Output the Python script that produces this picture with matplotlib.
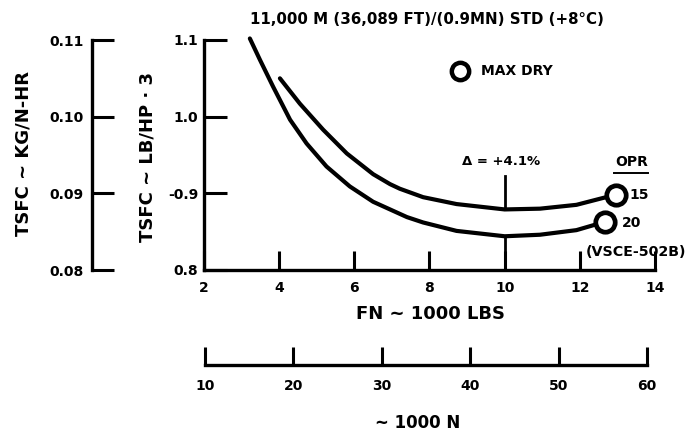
import matplotlib
matplotlib.use("Agg")
import matplotlib.pyplot as plt

plt.rcParams['font.family'] = ['DejaVu Sans']
plt.rcParams['font.weight'] = 'bold'

# ---- data ----
fn_opr20 = [3.22, 3.49, 3.84, 4.29, 4.73, 5.26, 5.88, 6.50, 6.95, 7.40, 7.83, 8.72, 10.0, 10.94, 11.91, 12.40, 12.68]
tsfc_opr20 = [1.102, 1.074, 1.039, 0.996, 0.965, 0.935, 0.909, 0.889, 0.879, 0.869, 0.862, 0.851, 0.844, 0.846, 0.852, 0.859, 0.862]

fn_opr15 = [4.02, 4.55, 5.17, 5.80, 6.50, 6.95, 7.21, 7.83, 8.72, 10.0, 10.94, 11.91, 12.62, 12.97]
tsfc_opr15 = [1.050, 1.017, 0.983, 0.952, 0.925, 0.912, 0.906, 0.895, 0.886, 0.879, 0.880, 0.885, 0.894, 0.898]

maxdry_fn = [8.81]
maxdry_tsfc = [1.059]

delta_fn = 10.0
delta_top = 0.922

x_ticks = [2, 4, 6, 8, 10, 12, 14]
x_ticklabels = ['2', '4', '6', '8', '10', '12', '14']
y_ticks = [0.8, 0.9, 1.0, 1.1]
y_ticklabels = ['0.8', '-0.9', '1.0', '1.1']
y2_ticks = [0.08, 0.09, 0.10, 0.11]
y2_ticklabels = ['0.08', '0.09', '0.10', '0.11']
n_ticks = [10, 20, 30, 40, 50, 60]
n_ticklabels = ['10', '20', '30', '40', '50', '60']

title = '11,000 M (36,089 FT)/(0.9MN) STD (+8°C)'
xlabel = 'FN ~ 1000 LBS'
xlabel2 = '~ 1000 N'
ylabel_main = 'TSFC ~ LB/HP · 3'
ylabel_si = 'TSFC ~ KG/N-HR'

W, H = 696, 437
fig = plt.figure(figsize=(W / 100, H / 100), dpi=100)

def rect(x0, y0, x1, y1):
    return [x0 / W, 1 - y1 / H, (x1 - x0) / W, (y1 - y0) / H]

lw_sp = 2.4
tick_kw = dict(direction='in', width=2.2, labelsize=10, colors='black')

# ---- main axes ----
ax = fig.add_axes(rect(204, 40, 655, 270))
ax.set_xlim(2, 14)
ax.set_ylim(0.8, 1.1)
for s in ['top', 'right']:
    ax.spines[s].set_visible(False)
for s in ['left', 'bottom']:
    ax.spines[s].set_linewidth(lw_sp)
ax.set_xticks(x_ticks)
ax.set_xticklabels(x_ticklabels, fontweight='bold')
ax.set_yticks(y_ticks)
ax.set_yticklabels(y_ticklabels, fontweight='bold')
ax.tick_params(axis='x', length=14, pad=8, **tick_kw)
ax.tick_params(axis='y', length=16.5, pad=4, **tick_kw)
ax.patch.set_alpha(0)

ax.plot(fn_opr20, tsfc_opr20, color='black', lw=3.0, solid_capstyle='round',
        solid_joinstyle='round', clip_on=False, zorder=3)
ax.plot(fn_opr15, tsfc_opr15, color='black', lw=3.0, solid_capstyle='round',
        solid_joinstyle='round', clip_on=False, zorder=3)
ax.plot(fn_opr20[-1:], tsfc_opr20[-1:], 'o', ms=14, mew=3.4, mfc='white',
        mec='black', clip_on=False, zorder=4)
ax.plot(fn_opr15[-1:], tsfc_opr15[-1:], 'o', ms=14, mew=3.4, mfc='white',
        mec='black', clip_on=False, zorder=4)

# MAX DRY key
ax.plot(maxdry_fn, maxdry_tsfc, 'o', ms=12.5, mew=3.2, mfc='white', mec='black',
        clip_on=False, zorder=4)
ax.text(maxdry_fn[0] + 0.55, maxdry_tsfc[0], 'MAX DRY', fontsize=10,
        fontweight='bold', ha='left', va='center')

# delta marker
i15 = fn_opr15.index(delta_fn)
i20 = fn_opr20.index(delta_fn)
ax.plot([delta_fn, delta_fn], [delta_top, tsfc_opr15[i15]], color='black', lw=2.0)
ax.plot([delta_fn, delta_fn], [0.8, tsfc_opr20[i20]], color='black', lw=2.0)
ax.text(9.91, 0.941, 'Δ = +4.1%', fontsize=9.5, fontweight='bold',
        ha='center', va='center')

# OPR labels
ax.text(13.37, 0.941, 'OPR', fontsize=10, fontweight='bold', ha='center',
        va='center')
ax.plot([12.92, 13.82], [0.927, 0.927], color='black', lw=1.4, clip_on=False)
ax.text(13.33, 0.898, '15', fontsize=10, fontweight='bold', ha='left', va='center')
ax.text(13.11, 0.861, '20', fontsize=10, fontweight='bold', ha='left', va='center')
ax.text(12.16, 0.824, '(VSCE-502B)', fontsize=10.3, fontweight='bold', ha='left',
        va='center', clip_on=False)

# ---- left SI axis ----
ax2 = fig.add_axes(rect(92, 40, 93, 270))
ax2.set_ylim(0.08, 0.11)
ax2.set_xticks([])
for s in ['top', 'right', 'bottom']:
    ax2.spines[s].set_visible(False)
ax2.spines['left'].set_linewidth(lw_sp)
ax2.set_yticks(y2_ticks)
ax2.set_yticklabels(y2_ticklabels, fontweight='bold')
ax2.tick_params(axis='y', length=16, pad=6, **tick_kw)
ax2.patch.set_alpha(0)

# ---- bottom SI axis ----
ax3 = fig.add_axes([205 / W, 1 - 365 / H, 442 / W, 0.0005])
ax3.set_xlim(10, 60)
ax3.set_yticks([])
for s in ['top', 'right', 'left']:
    ax3.spines[s].set_visible(False)
ax3.spines['bottom'].set_linewidth(lw_sp)
ax3.set_xticks(n_ticks)
ax3.set_xticklabels(n_ticklabels, fontweight='bold')
ax3.tick_params(axis='x', length=13, pad=10, **tick_kw)
ax3.patch.set_alpha(0)

# ---- texts ----
fig.text(427 / W, 1 - 19 / H, title, ha='center', va='center', fontsize=10.8,
         fontweight='bold')
fig.text(431 / W, 1 - 314 / H, xlabel, ha='center', va='center', fontsize=13,
         fontweight='bold')
fig.text(418 / W, 1 - 423 / H, xlabel2, ha='center', va='center', fontsize=12,
         fontweight='bold')
fig.text(24 / W, 1 - 153 / H, ylabel_si, ha='center', va='center', rotation=90,
         fontsize=13, fontweight='bold')
fig.text(147 / W, 1 - 157 / H, ylabel_main, ha='center', va='center', rotation=90,
         fontsize=13, fontweight='bold')

fig.savefig('out.png', dpi=100)
